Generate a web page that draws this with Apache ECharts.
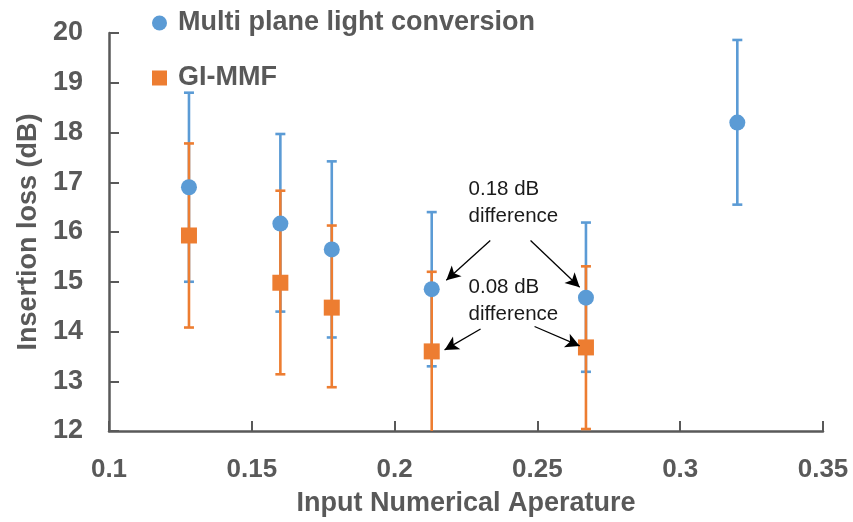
<!DOCTYPE html>
<html>
<head>
<meta charset="utf-8">
<script src="https://cdn.jsdelivr.net/npm/echarts@6/dist/echarts.min.js"></script>
<style>
  html, body { margin: 0; padding: 0; background: #fff; }
  #chart { width: 853px; height: 522px; }
</style>
</head>
<body>
<div id="chart"></div>
<script>
// input numerical aperture (x)
const naBlue = [0.128, 0.16, 0.178, 0.213, 0.267, 0.32]
const lossBlue = [16.9, 16.17, 15.65, 14.85, 14.68, 18.2]
const lowBlue = [15.0, 14.4, 13.88, 13.3, 13.19, 16.55]
const highBlue = [18.8, 17.97, 17.42, 16.4, 16.19, 19.86]

const naOrange = [0.128, 0.16, 0.178, 0.213, 0.267]
const lossOrange = [15.93, 14.98, 14.48, 13.6, 13.68]
const lowOrange = [14.08, 13.14, 12.88, 11.9, 12.04]
const highOrange = [17.78, 16.83, 16.13, 15.2, 15.31]

const xTicks = [0.1, 0.15, 0.2, 0.25, 0.3, 0.35]
const yTicks = [12, 13, 14, 15, 16, 17, 18, 19, 20]

// annotation arrows: [from, to] in data units
const arrows = [
  [[0.2335, 15.83], [0.2181, 15.03]],
  [[0.2476, 15.83], [0.2648, 14.89]],
  [[0.2301, 14.05], [0.2175, 13.63]],
  [[0.2490, 14.10], [0.2648, 13.71]]
]
const notes = [
  { at: [0.2259, 17.12], text: '0.18 dB\ndifference' },
  { at: [0.2259, 15.15], text: '0.08 dB\ndifference' }
]

const BLUE = '#5B9BD5'
const ORANGE = '#ED7D31'
const GREY = '#595959'
const FONT = 'Liberation Sans'

const chart = echarts.init(document.getElementById('chart'))

function errorBar(color) {
  return function (params, api) {
    const x = api.value(0)
    const top = api.coord([x, api.value(2)])
    const bot = api.coord([x, api.value(1)])
    const style = { stroke: color, lineWidth: 2.6 }
    return {
      type: 'group',
      children: [
        { type: 'line', shape: { x1: top[0], y1: top[1], x2: bot[0], y2: bot[1] }, style },
        { type: 'line', shape: { x1: top[0] - 5, y1: top[1], x2: top[0] + 5, y2: top[1] }, style },
        { type: 'line', shape: { x1: bot[0] - 5, y1: bot[1], x2: bot[0] + 5, y2: bot[1] }, style }
      ]
    }
  }
}

const options = {
  animation: false,
  textStyle: { fontFamily: FONT },
  grid: { left: 109, right: 30, top: 33, bottom: 91 },
  legend: {
    orient: 'vertical',
    left: 147,
    top: 3,
    itemWidth: 15,
    itemHeight: 15,
    itemGap: 25,
    textStyle: { fontSize: 27, fontWeight: 'bold', color: GREY, lineHeight: 30, padding: [0, 0, 0, 6] },
    data: [
      { name: 'Multi plane light conversion', icon: 'circle' },
      { name: 'GI-MMF', icon: 'rect' }
    ]
  },
  xAxis: {
    type: 'value',
    min: xTicks[0],
    max: xTicks[xTicks.length - 1],
    interval: 0.05,
    name: 'Input Numerical Aperature',
    nameLocation: 'middle',
    nameGap: 59,
    nameTextStyle: { fontSize: 27, fontWeight: 'bold', color: GREY },
    axisLine: { lineStyle: { color: GREY, width: 2.5 } },
    axisTick: { inside: true, length: 10, lineStyle: { color: GREY, width: 2 } },
    axisLabel: { fontSize: 26, fontWeight: 'bold', color: GREY, margin: 26 },
    splitLine: { show: false }
  },
  yAxis: {
    type: 'value',
    min: yTicks[0],
    max: yTicks[yTicks.length - 1],
    interval: 1,
    name: 'Insertion loss (dB)',
    nameLocation: 'middle',
    nameGap: 67,
    nameTextStyle: { fontSize: 27, fontWeight: 'bold', color: GREY },
    axisLine: { show: true, lineStyle: { color: GREY, width: 2.5 } },
    axisTick: { show: true, inside: true, length: 10, lineStyle: { color: GREY, width: 2 } },
    axisLabel: { fontSize: 27, fontWeight: 'bold', color: GREY, margin: 26 },
    splitLine: { show: false }
  },
  series: [
    {
      type: 'custom',
      name: 'blue-err',
      z: 1,
      clip: true,
      renderItem: errorBar(BLUE),
      encode: { x: 0, y: [1, 2] },
      data: naBlue.map((x, i) => [x, lowBlue[i], highBlue[i]])
    },
    {
      type: 'custom',
      name: 'orange-err',
      z: 2,
      clip: true,
      renderItem: errorBar(ORANGE),
      encode: { x: 0, y: [1, 2] },
      data: naOrange.map((x, i) => [x, lowOrange[i], highOrange[i]])
    },
    {
      type: 'scatter',
      name: 'Multi plane light conversion',
      z: 3,
      symbol: 'circle',
      symbolSize: 16,
      itemStyle: { color: BLUE, opacity: 1 },
      data: naBlue.map((x, i) => [x, lossBlue[i]])
    },
    {
      type: 'scatter',
      name: 'GI-MMF',
      z: 4,
      symbol: 'rect',
      symbolSize: 16,
      itemStyle: { color: ORANGE, opacity: 1 },
      data: naOrange.map((x, i) => [x, lossOrange[i]]),
      markLine: {
        silent: true,
        symbol: ['none', 'arrow'],
        symbolSize: [11, 14],
        label: { show: false },
        lineStyle: { color: '#000', width: 1.3, type: 'solid' },
        data: arrows.map((a) => [{ coord: a[0] }, { coord: a[1] }])
      }
    }
  ]
}
chart.setOption(options)

// note texts placed through the axes
chart.setOption({
  graphic: notes.map((n) => {
    const p = chart.convertToPixel({ gridIndex: 0 }, n.at)
    return {
      type: 'text',
      x: p[0],
      y: p[1],
      silent: true,
      style: {
        text: n.text,
        font: '20.5px "Liberation Sans"',
        fill: '#1a1a1a',
        lineHeight: 27
      }
    }
  })
})
</script>
</body>
</html>
